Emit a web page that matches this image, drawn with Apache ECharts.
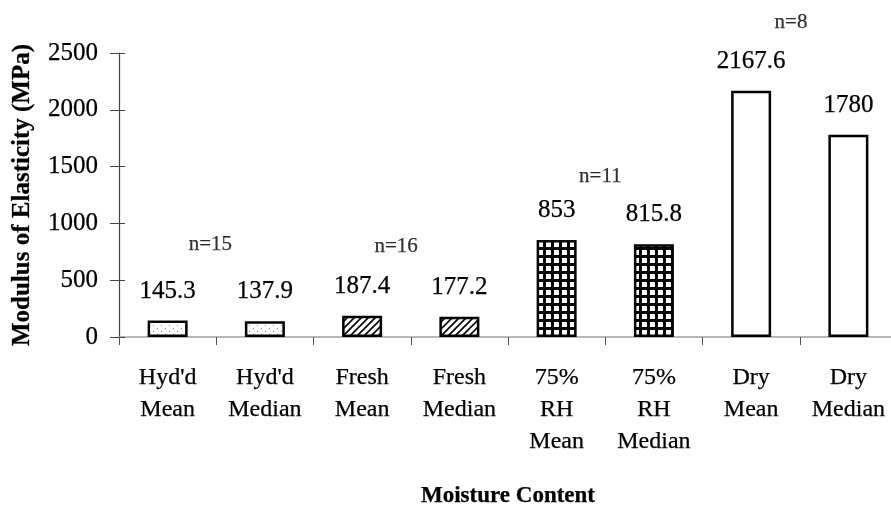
<!DOCTYPE html>
<html>
<head>
<meta charset="utf-8">
<script src="https://cdn.jsdelivr.net/npm/echarts@6/dist/echarts.min.js"></script>
<style>html,body{margin:0;padding:0;background:#fff;}#c{width:891px;height:506px;}</style>
</head>
<body>
<div id="c"></div>
<script>
var categories = ["Hyd'd\nMean", "Hyd'd\nMedian", "Fresh\nMean", "Fresh\nMedian", "75%\nRH\nMean", "75%\nRH\nMedian", "Dry\nMean", "Dry\nMedian"];
var values = [145.3, 137.9, 187.4, 177.2, 853, 815.8, 2167.6, 1780];
var groups = ["hyd", "hyd", "fresh", "fresh", "rh", "rh", "dry", "dry"];
var yTicks = [0, 500, 1000, 1500, 2000, 2500];
var nLabels = ["n=15", "n=16", "n=11", "n=8"];
var nAnchorX = [0.94, 2.85, 4.95, 6.91];
var nAnchorY = [810, 801, 1417, 2773];

function mkCanvas(w, h, draw) {
  var c = document.createElement('canvas');
  c.width = w; c.height = h;
  var ctx = c.getContext('2d');
  ctx.fillStyle = '#fff'; ctx.fillRect(0, 0, w, h);
  draw(ctx);
  return c;
}
var dotCanvas = mkCanvas(8, 6, function (ctx) {
  ctx.fillStyle = '#8a8a8a';
  ctx.fillRect(1, 1, 1, 1);
  ctx.fillRect(5, 4, 1, 1);
});
var hatchCanvas = mkCanvas(7, 7, function (ctx) {
  ctx.strokeStyle = '#000'; ctx.lineWidth = 1.6;
  ctx.beginPath();
  ctx.moveTo(-1, 8); ctx.lineTo(8, -1);
  ctx.moveTo(-1, 1); ctx.lineTo(1, -1);
  ctx.moveTo(6, 8); ctx.lineTo(8, 6);
  ctx.stroke();
});
var gridCanvas = mkCanvas(8, 8, function (ctx) {
  ctx.fillStyle = '#000'; ctx.fillRect(0, 0, 8, 8);
  ctx.fillStyle = '#fff'; ctx.fillRect(2, 2, 5, 5);
});
var fills = {
  hyd: { image: dotCanvas, repeat: 'repeat' },
  fresh: { image: hatchCanvas, repeat: 'repeat' },
  rh: { image: gridCanvas, repeat: 'repeat' },
  dry: '#ffffff'
};

var FONT = '"Liberation Serif", "Times New Roman", serif';
var INK = { textBorderColor: '#000', textBorderWidth: 0.25 };
function ink(o) { return Object.assign({}, INK, o); }

var chart = echarts.init(document.getElementById('c'), null, { renderer: 'canvas' });
chart.setOption({
  animation: false,
  backgroundColor: '#fff',
  grid: { left: 119, right: -6, top: 53, bottom: 169, containLabel: false, outerBoundsMode: 'none' },
  xAxis: [{
    type: 'category',
    data: categories,
    axisLine: { show: true, lineStyle: { color: '#a0a0a0', width: 1.5 } },
    axisTick: { show: true, length: 8, alignWithLabel: false, lineStyle: { color: '#555', width: 1 } },
    axisLabel: ink({ color: '#000', fontFamily: FONT, fontSize: 24, lineHeight: 32, margin: 25, interval: 0, hideOverlap: false }),
    name: 'Moisture Content',
    nameLocation: 'middle',
    nameGap: 148,
    nameTextStyle: ink({ color: '#000', fontFamily: FONT, fontSize: 23, fontWeight: 'bold' })
  }, {
    type: 'value', min: 0, max: 8, show: false
  }],
  yAxis: [{
    type: 'value',
    min: 0, max: 2500, interval: 500,
    axisLine: { show: true, lineStyle: { color: '#444', width: 1.2 } },
    axisTick: { show: true, length: 9, lineStyle: { color: '#444' } },
    splitLine: { show: false },
    axisLabel: ink({ color: '#000', fontFamily: FONT, fontSize: 25, margin: 21,
      formatter: function (v) { return yTicks.indexOf(v) >= 0 ? String(v) : ''; } }),
    name: 'Modulus of Elasticity (MPa)',
    nameLocation: 'middle',
    nameGap: 84,
    nameRotate: 90,
    nameTextStyle: ink({ color: '#000', fontFamily: FONT, fontSize: 25, fontWeight: 'bold' })
  }, {
    type: 'value',
    min: 0, max: 2500, interval: 500,
    position: 'left',
    axisLine: { show: false },
    axisTick: { show: true, inside: true, length: 6, lineStyle: { color: '#444' } },
    axisLabel: { show: false },
    splitLine: { show: false }
  }],
  series: [{
    type: 'bar',
    xAxisIndex: 0, yAxisIndex: 0,
    barWidth: 40,
    data: values.map(function (v, i) {
      return { value: v, itemStyle: { color: fills[groups[i]], borderColor: '#000', borderWidth: 2.5 } };
    }),
    label: ink({ show: true, position: 'top', distance: 17, color: '#000', fontFamily: FONT, fontSize: 25 })
  }, {
    type: 'scatter',
    xAxisIndex: 1, yAxisIndex: 0,
    clip: false,
    symbolSize: 0,
    silent: true,
    data: nLabels.map(function (t, i) { return { value: [nAnchorX[i], nAnchorY[i]], name: t }; }),
    label: ink({ show: true, position: 'inside', formatter: function (p) { return p.name; },
      color: '#000', fontFamily: FONT, fontSize: 21 })
  }]
});
</script>
</body>
</html>
